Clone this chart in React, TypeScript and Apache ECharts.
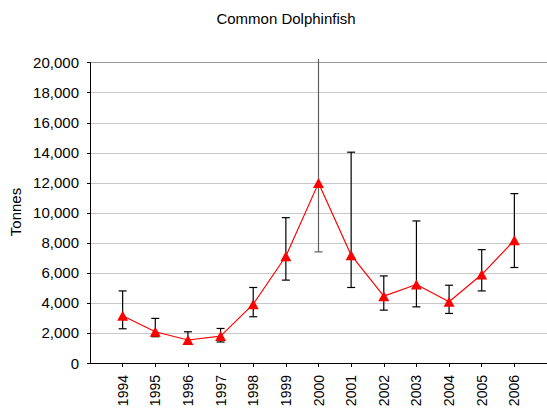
import React, { useEffect, useRef } from "react";
import * as echarts from "echarts";

const years = [1994, 1995, 1996, 1997, 1998, 1999, 2000, 2001, 2002, 2003, 2004, 2005, 2006];
const catch_t = [3150, 2080, 1530, 1790, 3920, 7110, 11980, 7180, 4450, 5230, 4080, 5890, 8170];
const upper = [4800, 2970, 2080, 2300, 5030, 9680, 20250, 14040, 5800, 9460, 5180, 7550, 11280];
const lower = [2280, 1750, 1350, 1400, 3080, 5520, 7400, 5030, 3520, 3740, 3300, 4800, 6360];
const yTicks = [0, 2000, 4000, 6000, 8000, 10000, 12000, 14000, 16000, 18000, 20000];

const FONT = "'Liberation Sans', Arial, sans-serif";

export default function App() {
  const ref = useRef<HTMLDivElement>(null);
  useEffect(() => {
    if (!ref.current) return;
    const chart = echarts.init(ref.current, undefined, { renderer: "svg" });
    const gridColors = yTicks.map((v, i) => (i === yTicks.length - 1 ? "#9a9a9a" : "#c8c8c8"));
    chart.setOption({
      animation: false,
      textStyle: { fontFamily: FONT },
      title: {
        text: "Common Dolphinfish",
        left: 281,
        top: 6,
        textAlign: "center",
        textStyle: { fontSize: 15, fontWeight: "normal", color: "#000", fontFamily: FONT },
      },
      graphic: [
        {
          type: "text",
          x: 15,
          y: 212,
          rotation: Math.PI / 2,
          style: {
            text: "Tonnes",
            fontSize: 15,
            fontFamily: FONT,
            fill: "#000",
            textAlign: "center",
            textVerticalAlign: "middle",
          },
        },
      ],
      grid: { left: 90, right: 0, top: 62.7, bottom: 54, containLabel: false },
      xAxis: {
        type: "value",
        min: 1993,
        max: 2007,
        interval: 1,
        splitLine: { show: false },
        axisLine: { show: true, onZero: false, lineStyle: { color: "#000", width: 1 } },
        axisTick: { show: true, length: 4, customValues: years, lineStyle: { color: "#000" } },
        axisLabel: {
          rotate: 90,
          margin: 12,
          fontSize: 14,
          color: "#000",
          fontFamily: FONT,
          customValues: years,
          formatter: (v: number) => String(v),
        },
      },
      yAxis: {
        type: "value",
        min: 0,
        max: 20000,
        interval: 2000,
        axisLine: { show: true, lineStyle: { color: "#000", width: 1 } },
        axisTick: { show: true, length: 3, lineStyle: { color: "#000" } },
        splitLine: { show: true, lineStyle: { color: gridColors, width: 1 } },
        axisLabel: {
          margin: 11,
          fontSize: 15,
          color: "#000",
          fontFamily: FONT,
          formatter: (v: number) => v.toLocaleString("en-US"),
        },
      },
      series: [
        {
          type: "custom",
          clip: false,
          z: 2,
          data: years.map((y, i) => [y, lower[i], upper[i]]),
          renderItem: (params: any, api: any) => {
            const x = api.value(0);
            const lo = api.coord([x, api.value(1)]);
            const hi = api.coord([x, api.value(2)]);
            const cap = 4;
            const color = x === 2000 ? "#606060" : "#000";
            const style = { stroke: color, lineWidth: 1.2 };
            return {
              type: "group",
              children: [
                { type: "line", shape: { x1: hi[0], y1: hi[1], x2: lo[0], y2: lo[1] }, style },
                ...(x === 2000
                  ? []
                  : [{ type: "line", shape: { x1: hi[0] - cap, y1: hi[1], x2: hi[0] + cap, y2: hi[1] }, style }]),
                { type: "line", shape: { x1: lo[0] - cap, y1: lo[1], x2: lo[0] + cap, y2: lo[1] }, style },
              ],
            };
          },
        },
        {
          type: "line",
          z: 3,
          data: years.map((y, i) => [y, catch_t[i]]),
          symbol: "triangle",
          symbolSize: [11, 10],
          lineStyle: { color: "#ff0000", width: 1.2 },
          itemStyle: { color: "#ff0000" },
        },
      ],
    });
    return () => chart.dispose();
  }, []);
  return (
    <div
      ref={ref}
      style={{ position: "fixed", left: 0, top: 0, width: 547, height: 417, background: "#fff" }}
    />
  );
}
